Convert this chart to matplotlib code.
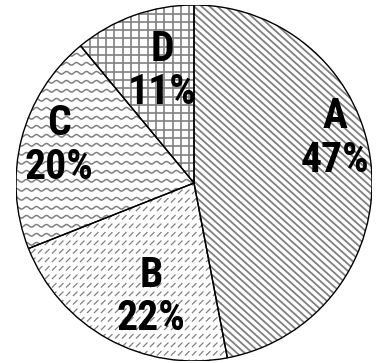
import numpy as np
import matplotlib
matplotlib.use("Agg")
import matplotlib.pyplot as plt
from matplotlib.collections import LineCollection
from matplotlib.patches import PathPatch
from matplotlib import font_manager

labels = ["A", "B", "C", "D"]
shares = [47, 22, 20, 11]

# label centres in pie units (radius = 1)
label_xy = [(0.79, 0.25), (-0.24, -0.64), (-0.76, 0.21), (-0.18, 0.63)]

PX = 1 / 178.0  # one screen pixel in pie units
GRAY = "#808080"


def stripes(spacing, angle_deg):
    a = np.deg2rad(angle_deg)
    d = np.array([np.cos(a), np.sin(a)])
    n = np.array([-d[1], d[0]])
    segs = []
    for off in np.arange(-1.6, 1.6, spacing):
        c = n * off
        segs.append([c - 1.6 * d, c + 1.6 * d])
    return segs


def dashes(row_gap, col_gap, size):
    segs = []
    for y in np.arange(-1.1, 1.1, row_gap):
        for x in np.arange(-1.1, 1.1, col_gap):
            segs.append([(x - size / 2, y - size / 2), (x + size / 2, y + size / 2)])
    return segs


def waves(row_gap, wavelength, amp):
    xs = np.linspace(-1.1, 1.1, 600)
    segs = []
    for y in np.arange(-1.1, 1.1, row_gap):
        ys = y + amp * np.sin(2 * np.pi * xs / wavelength)
        segs.append(np.column_stack([xs, ys]))
    return segs


def grid(gap):
    segs = []
    for v in np.arange(-1.1, 1.1, gap):
        segs.append([(v, -1.1), (v, 1.1)])
        segs.append([(-1.1, v), (1.1, v)])
    return segs


# pick the narrowest bold face that is actually installed
names = {f.name for f in font_manager.fontManager.ttflist}
families = [f for f in ["Liberation Sans Narrow", "Roboto Condensed",
                        "DejaVu Sans Condensed", "Liberation Sans"] if f in names]
families.append("DejaVu Sans")

textures = [
    (stripes(5.2 * PX, -42), 1.3),
    (dashes(8.5 * PX, 7 * PX, 4.5 * PX), 0.9),
    (waves(9 * PX, 10 * PX, 1.3 * PX), 1.1),
    (grid(8.3 * PX), 1.2),
]

fig = plt.figure(figsize=(3.79, 3.63), dpi=100)
ax = fig.add_axes([16 / 379, 2 / 363, 356 / 379, 356 / 363])

wedges, _ = ax.pie(shares, startangle=90, counterclock=False,
                   colors=["white"] * len(shares),
                   wedgeprops=dict(edgecolor="none", linewidth=0))

for w, (segs, lw) in zip(wedges, textures):
    lc = LineCollection(segs, colors=GRAY, linewidths=lw, zorder=1.5)
    ax.add_collection(lc)
    lc.set_clip_path(w)
    ax.add_patch(PathPatch(w.get_path(), transform=w.get_transform(),
                           fill=False, edgecolor="black", linewidth=1.0, zorder=2))

for name, val, (x, y) in zip(labels, shares, label_xy):
    ax.text(x, y, f"{name}\n{val}%", ha="center", va="center",
            fontsize=30, fontweight="bold", linespacing=1.08,
            family=families, fontstretch="condensed", zorder=3)

ax.set_xlim(-1, 1)
ax.set_ylim(-1, 1)
ax.set_aspect("equal")
ax.axis("off")

fig.savefig("out.png", dpi=100)
